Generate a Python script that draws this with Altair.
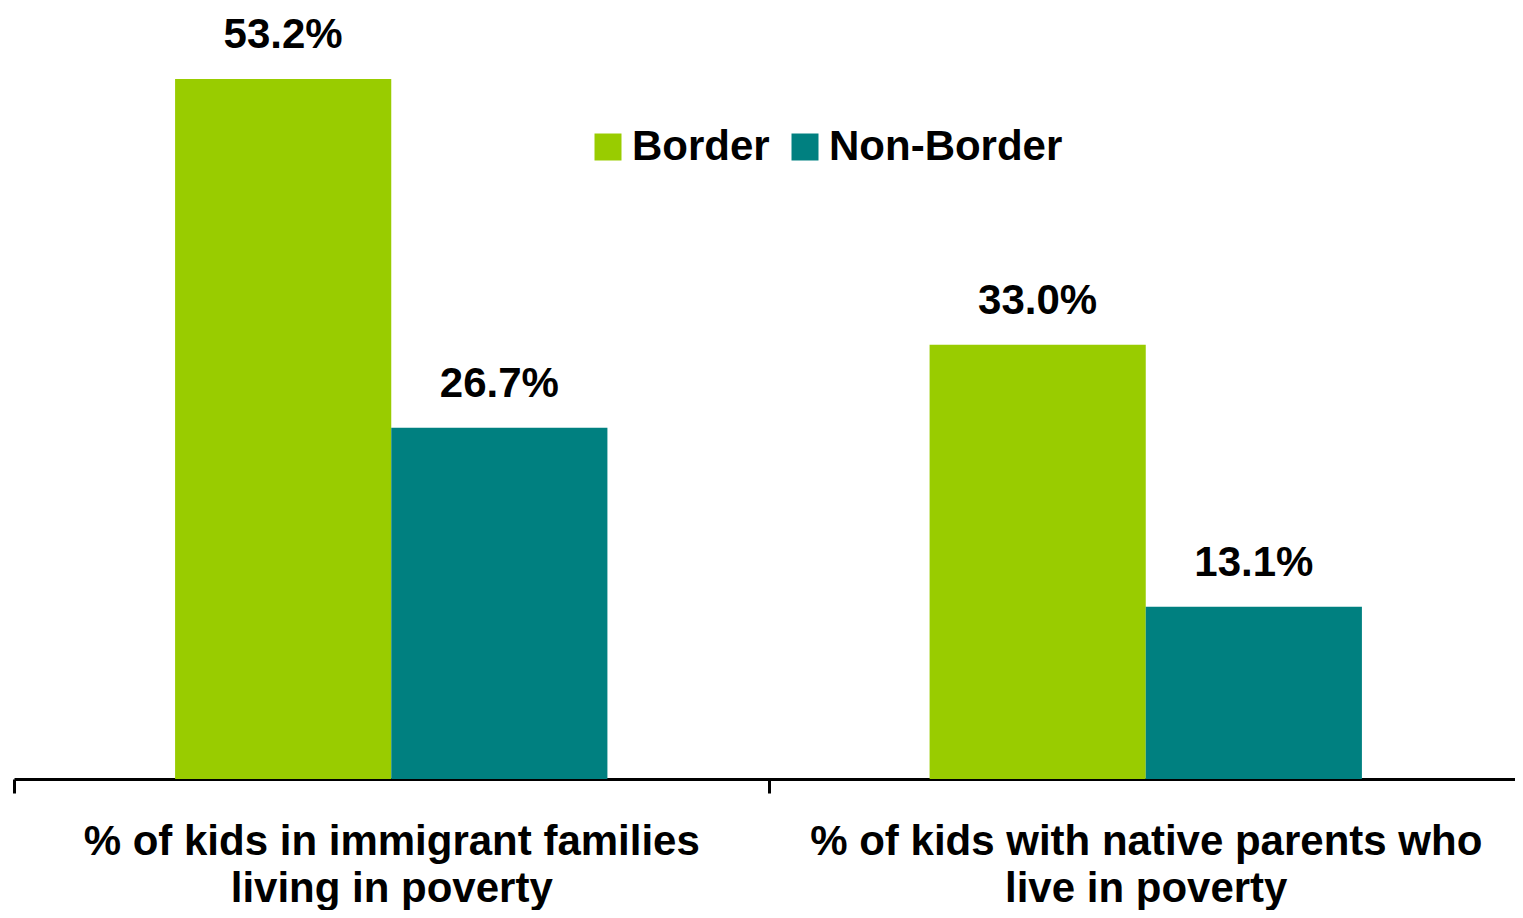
import altair as alt
import pandas as pd

categories = [
    "% of kids in immigrant families living in poverty",
    "% of kids with native parents who live in poverty",
]
category_lines = [
    ["% of kids in immigrant families", "living in poverty"],
    ["% of kids with native parents who", "live in poverty"],
]
series = ["Border", "Non-Border"]
border_values = [53.2, 33.0]
nonborder_values = [26.7, 13.1]
colors = ["#99CC00", "#008080"]

rows = []
for i, c in enumerate(categories):
    rows.append({"category": c, "series": series[0], "value": border_values[i]})
    rows.append({"category": c, "series": series[1], "value": nonborder_values[i]})
df = pd.DataFrame(rows)
df["label"] = df["value"].map(lambda v: f"{v:.1f}%")

label_expr = " : ".join(
    [f"datum.value == {c!r} ? {lines!r}" for c, lines in zip(categories, category_lines)]
) + " : datum.label"

FONT = "Liberation Sans"
STEP_HALF = 377

x_enc = alt.X(
    "category:N",
    sort=categories,
    title=None,
    scale=alt.Scale(paddingInner=0.427, paddingOuter=0.2135, range=[6, 1515]),
    axis=alt.Axis(
        tickOffset=-STEP_HALF,
        labelOffset=STEP_HALF,
        labelAngle=0,
        labelExpr=label_expr,
        labelFont=FONT,
        labelFontSize=42,
        labelFontWeight="bold",
        labelColor="black",
        labelLineHeight=47,
        labelPadding=28,
        labelBaseline="top",
        labelLimit=0,
        labelOverlap=False,
        tickSize=14,
        tickWidth=3,
        tickColor="black",
        domainColor="black",
        domainWidth=3,
        grid=False,
    ),
)

base = alt.Chart(df).encode(
    x=x_enc,
    xOffset=alt.XOffset("series:N", sort=series, scale=alt.Scale(paddingInner=0, paddingOuter=0)),
)

bars = base.mark_bar().encode(
    y=alt.Y("value:Q", scale=alt.Scale(domain=[0, 58.6], nice=False), axis=None),
    color=alt.Color(
        "series:N",
        sort=series,
        scale=alt.Scale(domain=series, range=colors),
        legend=alt.Legend(
            title=None,
            orient="none",
            legendX=579,
            legendY=118,
            direction="horizontal",
            symbolType="square",
            symbolSize=729,
            symbolStrokeWidth=0,
            labelFont=FONT,
            labelFontSize=42,
            labelFontWeight="bold",
            labelColor="black",
            labelOffset=3,
            labelLimit=0,
            columnPadding=14,
        ),
    ),
)

text = base.mark_text(
    font=FONT, fontSize=42, fontWeight="bold", color="black", baseline="alphabetic", dy=-31
).encode(
    y=alt.Y("value:Q"),
    text="label:N",
)

chart = (
    alt.layer(bars, text)
    .properties(
        width=1507,
        height=771,
        padding={"left": 0, "top": 0, "right": 0, "bottom": 131},
        autosize=alt.AutoSizeParams(type="none"),
    )
    .configure_view(stroke=None)
)

chart.save("out.html", embed_options={"renderer": "svg", "actions": False})
